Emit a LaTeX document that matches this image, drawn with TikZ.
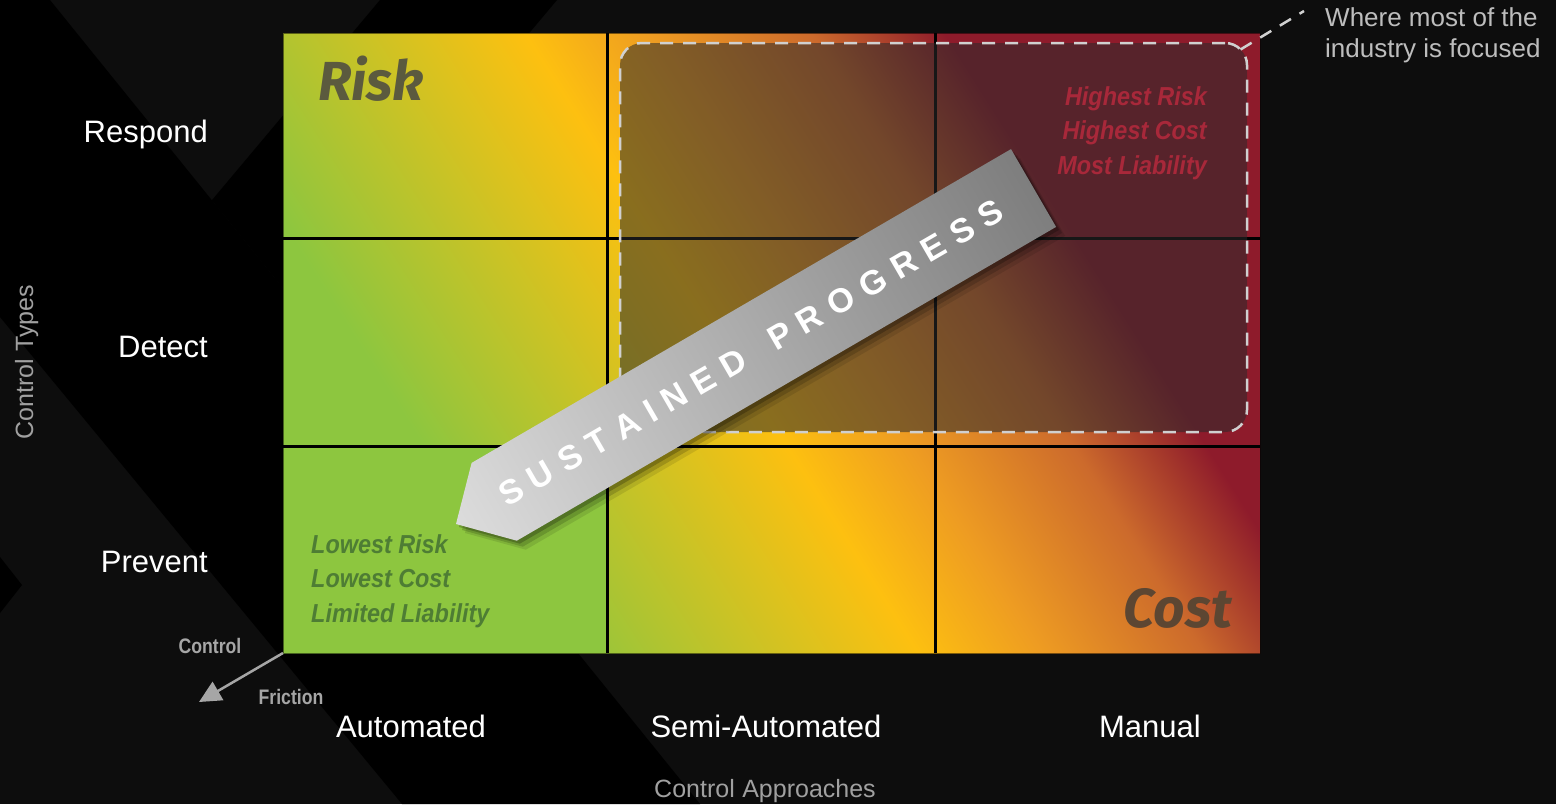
\documentclass[tikz,border=0pt]{standalone}
\usepackage{fontspec}
\setmainfont{Liberation Sans}
\newfontfamily\condfont[FakeStretch=0.9]{Liberation Sans}
\newfontfamily\narrowfont[FakeStretch=0.84]{Liberation Sans}
\newfontfamily\heavyfont{Fira Sans}
\usetikzlibrary{arrows.meta,calc}

\definecolor{bgdark}{HTML}{0D0D0D}
\definecolor{cgreen}{HTML}{8DC63F}
\definecolor{cyellow}{HTML}{FDC010}
\definecolor{corange}{HTML}{EE9C22}
\definecolor{cbrown}{HTML}{CC6A2C}
\definecolor{cred}{HTML}{8E1B2B}
\definecolor{veil}{HTML}{2B2B2B}
\definecolor{dashgray}{HTML}{D0D0D0}
\definecolor{arrowlight}{HTML}{DCDCDC}
\definecolor{arrowdark}{HTML}{7E7E7E}
\definecolor{axisgray}{HTML}{A0A0A0}
\definecolor{frictgray}{HTML}{A6A6A6}
\definecolor{notegray}{HTML}{BDBDBD}
\definecolor{lowgreen}{HTML}{4E7D34}
\definecolor{highred}{HTML}{A8283A}
\definecolor{riskink}{HTML}{5B5A3E}
\definecolor{costink}{HTML}{5C4632}

% heat map running from the green corner to the red corner
\pgfdeclarehorizontalshading{heatmap}{100bp}{color(0bp)=(cgreen); color(36bp)=(cgreen); color(48.3bp)=(cyellow); color(52.5bp)=(corange); color(58bp)=(cbrown); color(62.5bp)=(cred); color(100bp)=(cred)}
% light tip, darker tail
\pgfdeclarehorizontalshading{progress}{100bp}{color(0bp)=(arrowlight); color(26bp)=(arrowlight); color(74bp)=(arrowdark); color(100bp)=(arrowdark)}

\newcommand\lsp{\kern10.5pt}

\tikzset{
  rowlab/.style={text=white, font=\fontsize{31}{37}\selectfont, inner sep=0pt, anchor=base east},
  collab/.style={text=white, font=\fontsize{31}{37}\selectfont, inner sep=0pt, anchor=base},
  axislab/.style={text=axisgray, font=\fontsize{25}{30}\selectfont, inner sep=0pt, anchor=base},
  notelab/.style={text=notegray, font=\fontsize{26}{31}\selectfont, inner sep=0pt, anchor=base west},
  frictionlab/.style={text=frictgray, font=\narrowfont\bfseries\fontsize{21}{25}\selectfont, inner sep=0pt, anchor=base},
  lowlab/.style={text=lowgreen, font=\condfont\bfseries\itshape\fontsize{26}{31}\selectfont, inner sep=0pt, anchor=base west},
  highlab/.style={text=highred, font=\condfont\bfseries\itshape\fontsize{26}{31}\selectfont, inner sep=0pt, anchor=base east},
  bigword/.style={font=\heavyfont\bfseries\itshape\fontsize{55}{60}\selectfont, inner sep=0pt},
  gridline/.style={black, line width=3pt},
  dashline/.style={draw=dashgray, line width=2.5pt, dash pattern=on 13pt off 10pt},
  focusbox/.style={dashline, fill=veil, fill opacity=0.55, rounded corners=22pt,
    minimum width=627pt, minimum height=389pt, inner sep=0pt, outer sep=0pt},
}

\begin{document}
\begin{tikzpicture}[x=1pt,y=-1pt]
\useasboundingbox (0,0) rectangle (1556,804);

% background chevrons
\fill[bgdark] (0,0) rectangle (1556,804);
\fill[black] (0,0) -- (50,0) -- (700,804) -- (402,804) -- (0,317) -- cycle;
\fill[black] (380,0) -- (557,0) -- (298.6,307.5) -- (211.9,200.2) -- cycle;
\fill[black] (0,557) -- (22,585) -- (0,613) -- cycle;

% heat map grid
\begin{scope}
  \clip (283,33) rectangle (1260,653);
  \shade[shading=heatmap, shading angle=32.4] (146.5,-282) rectangle (1396.5,968);
\end{scope}
\fill[cgreen] (283,446) rectangle (607,653);
\draw[black, opacity=0.5, line width=1pt] (283,33) rectangle (1260,653);
\draw[gridline] (607,33) -- (607,653);
\draw[gridline] (935,33) -- (935,653);
\draw[gridline] (283,238) -- (1260,238);
\draw[gridline] (283,446) -- (1260,446);

% region where most effort goes
\node[focusbox] (focus) at (933.5,237.5) {};

% cell captions
\node[bigword, text=riskink, anchor=base west] (risk) at (318,100) {Risk};
\node[bigword, text=costink, anchor=base east] (cost) at (1232,627) {Cost};
\node[lowlab] (low1) at (311,553) {Lowest Risk};
\node[lowlab] (low2) at (311,587.5) {Lowest Cost};
\node[lowlab] (low3) at (311,622) {Limited Liability};
\node[highlab] (high1) at (1207,105) {Highest Risk};
\node[highlab] (high2) at (1207,139.5) {Highest Cost};
\node[highlab] (high3) at (1207,174) {Most Liability};

% progress arrow: soft shadow, then shaded body
\foreach \d/\o in {3/0.22,6/0.16,9/0.10}{
  \fill[black, opacity=\o, shift={(\d,\d)}]
    (1011,149.1) -- (1056.1,226.9) -- (516.8,540.7) -- (456,524) -- (471.6,462.9) -- cycle;
}
\begin{scope}
  \clip (1011,149.1) -- (1056.1,226.9) -- (516.8,540.7) -- (456,524) -- (471.6,462.9) -- cycle;
  \shade[shading=progress, shading angle=30.1] (395,6) rectangle (1095,706);
\end{scope}
\node[rotate=30.1, text=white, inner sep=0pt, font=\bfseries\fontsize{34}{40}\selectfont] (progress) at (751,353)
  {S\lsp U\lsp S\lsp T\lsp A\lsp I\lsp N\lsp E\lsp D\lsp\ \lsp P\lsp R\lsp O\lsp G\lsp R\lsp E\lsp S\lsp S};

% note and its leader
\coordinate (leaderend) at (1304,11);
\draw[dashline] ($(focus.north east)+(-6.5,6.5)$) -- (leaderend);
\node[notelab] (note1) at (1325,26) {Where most of the};
\node[notelab] (note2) at (1325,57) {industry is focused};

% row and column labels
\node[rowlab] (respond) at (208,142) {Respond};
\node[rowlab] (detect) at (208,357) {Detect};
\node[rowlab] (prevent) at (208,572) {Prevent};
\node[collab] (auto) at (411,737) {Automated};
\node[collab] (semi) at (766,737) {Semi-Automated};
\node[collab] (manual) at (1150,737) {Manual};
\node[axislab, rotate=90] (types) at (33,362) {Control Types};
\node[axislab] (approaches) at (765,797) {Control\hspace{0.3em}Approaches};

% friction axis
\coordinate (origin) at (283,653);
\coordinate (frictip) at (199,702);
\draw[frictgray, line width=2.5pt, -{Triangle[length=22pt,width=21pt]}] (origin) -- (frictip);
\node[frictionlab] (control) at (210,653) {Control};
\node[frictionlab] (friction) at (291,704) {Friction};
\end{tikzpicture}
\end{document}
